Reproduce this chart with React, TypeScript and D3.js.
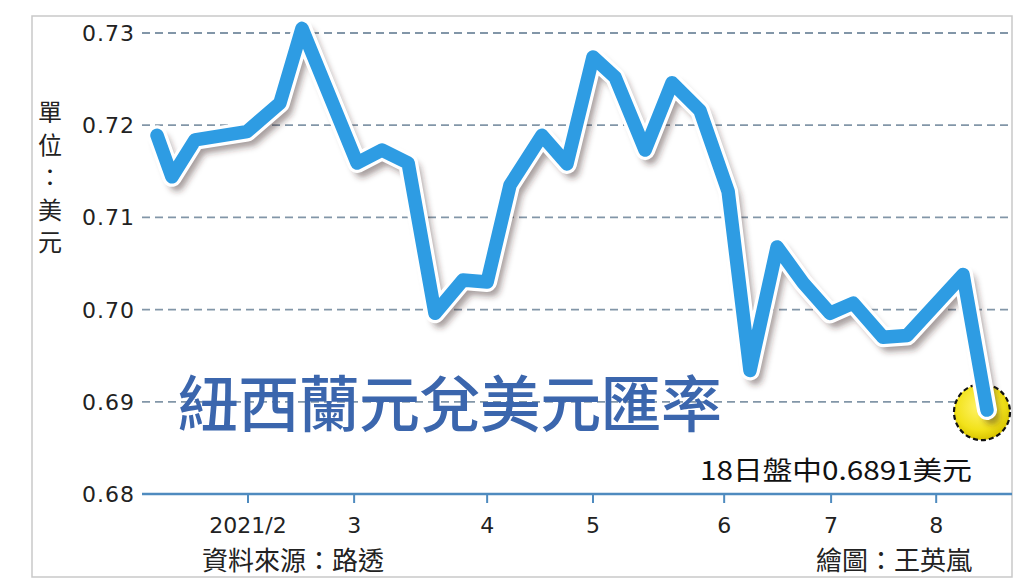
import React from "react";
import * as d3 from "d3";

// Position of each observation along the time axis (in weeks from the first point)
const weekPos: number[] = [0, 0.56, 1.43, 3.38, 4.62, 5.45, 7.52, 8.46, 9.44, 10.45, 11.5, 12.41, 13.27, 14.47, 15.41, 16.39, 17.22, 18.35, 19.36, 20.41, 21.47, 22.29, 23.31, 24.29, 25.3, 26.17, 27.29, 28.2, 30.3, 31.2];
// NZD/USD rate
const rates: number[] = [0.7189, 0.7144, 0.7184, 0.7193, 0.7224, 0.7305, 0.7159, 0.7173, 0.7159, 0.6996, 0.7032, 0.7030, 0.7135, 0.7189, 0.7158, 0.7274, 0.7252, 0.7173, 0.7246, 0.7216, 0.7128, 0.6934, 0.7068, 0.7029, 0.6996, 0.7007, 0.6970, 0.6972, 0.7038, 0.6891];

const monthLabels: string[] = ["2021/2", "3", "4", "5", "6", "7", "8"];
const monthPos: number[] = [3.42, 7.41, 12.41, 16.39, 21.32, 25.34, 29.29];
const yTicks: number[] = [0.68, 0.69, 0.70, 0.71, 0.72, 0.73];

const title = "紐西蘭元兌美元匯率";
const unitChars = ["單", "位", "：", "美", "元"];
const annotation = "18日盤中0.6891美元";
const source = "資料來源：路透";
const credit = "繪圖：王英嵐";

export default function App() {
  const W = 1024, H = 585;
  const x = d3.scaleLinear().domain([0, 31.2]).range([157, 987]);
  const y = d3.scaleLinear().domain([0.68, 0.73]).range([494, 33]);
  const pts: [number, number][] = weekPos.map((w, i) => [x(w), y(rates[i])]);
  const line = d3.line<[number, number]>().x(d => d[0]).y(d => d[1])(pts) || "";
  const last = pts[pts.length - 1];
  const numFont = "'DejaVu Sans', Lato, sans-serif";
  const cjkFont = "'Noto Sans CJK TC', 'Noto Sans CJK SC', sans-serif";
  const gridLeft = 142, gridRight = 1012;

  return (
    <svg width={W} height={H} style={{ position: "absolute", left: 0, top: 0, background: "#fff" }}>
      <defs>
        <filter id="blur" x="-10%" y="-10%" width="120%" height="120%">
          <feGaussianBlur stdDeviation="3" />
        </filter>
        <radialGradient id="yel" cx="45%" cy="40%" r="60%">
          <stop offset="0%" stopColor="#fff36a" />
          <stop offset="70%" stopColor="#f2e21a" />
          <stop offset="100%" stopColor="#d8c400" />
        </radialGradient>
      </defs>
      <rect x={0} y={0} width={W} height={H} fill="#fff" />
      <rect x={32} y={16} width={980} height={561} fill="#fff" stroke="#c9c9c9" strokeWidth={1.5} />

      {/* grid */}
      {yTicks.map((t, i) => (
        t === 0.68 ? null : (
          <line key={"g" + i} x1={gridLeft} x2={gridRight} y1={y(t)} y2={y(t)} stroke="#8296a8" strokeWidth={1.8} strokeDasharray="8 5" />
        )
      ))}
      {/* y labels */}
      {yTicks.map((t, i) => (
        <text key={"yl" + i} x={135} y={y(t) + 8} textAnchor="end" fontFamily={numFont} fontSize={22} letterSpacing={1} fill="#222">
          {t.toFixed(2)}
        </text>
      ))}
      {/* unit label vertical */}
      {unitChars.map((c, i) => (
        <text key={"u" + i} x={50} y={121 + i * 32.5} textAnchor="middle" fontFamily={cjkFont} fontSize={24} fill="#222">{c}</text>
      ))}

      {/* title */}
      <text x={178} y={427} fontFamily={cjkFont} fontSize={61} fontWeight={500} fill="#3b66ad" textLength={544} lengthAdjust="spacing">{title}</text>

      {/* highlight circle */}
      <circle cx={last[0] - 5} cy={last[1] + 2} r={28} fill="url(#yel)" stroke="#111" strokeWidth={2.2} strokeDasharray="5 3" />

      {/* line with shadow + white outline */}
      <path d={line} fill="none" stroke="rgba(60,40,30,0.45)" strokeWidth={15} strokeLinejoin="round" strokeLinecap="round" transform="translate(5,7)" filter="url(#blur)" />
      <path d={line} fill="none" stroke="#ffffff" strokeWidth={20} strokeLinejoin="round" strokeLinecap="round" />
      <path d={line} fill="none" stroke="#2e9ce3" strokeWidth={13.5} strokeLinejoin="round" strokeLinecap="round" />

      {/* x axis */}
      <line x1={gridLeft} x2={gridRight} y1={y(0.68)} y2={y(0.68)} stroke="#4f8bbf" strokeWidth={2.5} />
      {monthPos.map((m, i) => (
        <g key={"xt" + i}>
          <line x1={x(m)} x2={x(m)} y1={y(0.68)} y2={y(0.68) + 9} stroke="#4f8bbf" strokeWidth={2} />
          <text x={x(m)} y={533} textAnchor="middle" fontFamily={numFont} fontSize={22} fill="#222">{monthLabels[i]}</text>
        </g>
      ))}

      {/* annotation */}
      <text x={700} y={480} fontFamily={cjkFont} fontSize={26} fill="#111" textLength={272} lengthAdjust="spacingAndGlyphs">{annotation}</text>

      {/* footer */}
      <text x={202} y={570} fontFamily={cjkFont} fontSize={26} fill="#222">{source}</text>
      <text x={972} y={570} textAnchor="end" fontFamily={cjkFont} fontSize={26} fill="#222">{credit}</text>
    </svg>
  );
}
